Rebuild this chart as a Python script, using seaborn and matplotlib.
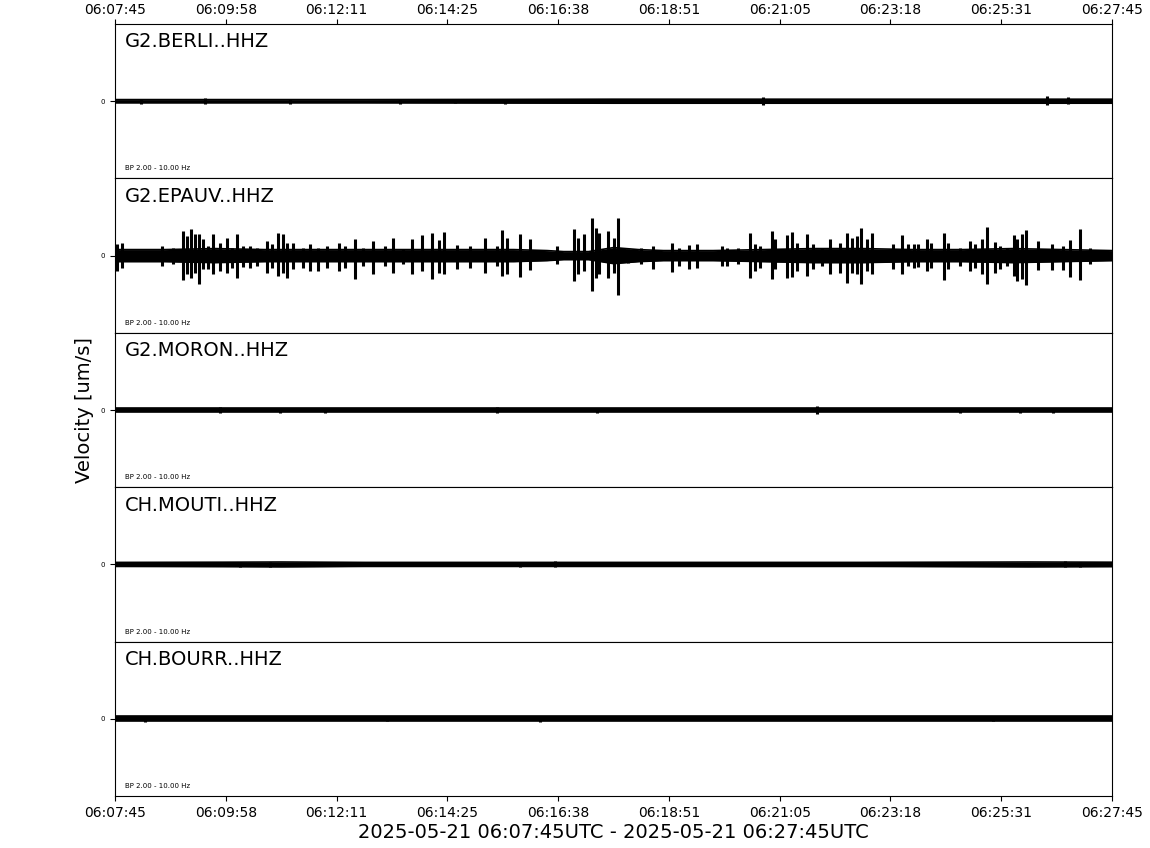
import numpy as np
import pandas as pd
import matplotlib
matplotlib.use("Agg")
import matplotlib.pyplot as plt
import seaborn as sns

# ---------------- data ----------------
stations = ["G2.BERLI..HHZ", "G2.EPAUV..HHZ", "G2.MORON..HHZ",
            "CH.MOUTI..HHZ", "CH.BOURR..HHZ"]
filter_label = "BP 2.00 - 10.00 Hz"
tick_labels = ["06:07:45", "06:09:58", "06:12:11", "06:14:25", "06:16:38",
               "06:18:51", "06:21:05", "06:23:18", "06:25:31", "06:27:45"]
window_label = "2025-05-21 06:07:45UTC - 2025-05-21 06:27:45UTC"
duration_s = 1200
y_limit = 77  # amplitude units (arbitrary velocity scale)

# background noise envelope (seconds from start, half-amplitude)
berli_band_t = [0, 300, 470, 600, 900, 1200]
berli_band_a = [1.6, 1.6, 1.8, 2.0, 2.0, 2.0]
berli_spike_t = [31.3, 108.3, 210.6, 343.0, 409.2, 469.4, 779.9, 1121.8, 1147.0]
berli_spike_up = [2.5, 3.5, 2.5, 2.5, 2.2, 2.5, 4.0, 5.0, 4.0]
berli_spike_dn = [2.5, 3.0, 2.5, 2.5, 2.2, 2.5, 3.5, 4.0, 3.0]

epauv_band_t = [0, 60, 120, 180, 240, 300, 360, 420, 480, 520, 540, 570, 600,
                630, 660, 720, 780, 840, 900, 960, 1020, 1080, 1140, 1200]
epauv_band_a = [6, 6, 7, 6, 6, 6, 6, 6, 6, 5, 4, 4, 8,
                6, 5, 5, 6, 7, 7, 6, 6, 7, 6, 5]
epauv_spike_t = [2.4, 8.4, 56.6, 69.8, 81.8, 86.7, 91.5, 96.3, 101.1, 105.9,
                 111.9, 118.0, 126.4, 134.8, 140.8, 146.8, 154.1, 162.5, 170.9,
                 182.9, 189.0, 196.2, 202.2, 207.0, 214.2, 226.3, 234.7, 244.3,
                 255.2, 269.6, 276.8, 288.9, 298.5,
                 310.5, 325.0, 334.6, 346.6, 357.5, 369.5, 381.5, 390.0, 396.0,
                 411.6, 427.3, 445.3, 459.8, 465.8, 471.8, 487.5, 499.5, 532.0,
                 552.5, 557.3, 564.5, 574.1, 578.9, 582.5, 593.4, 600.0, 605.4,
                 617.4, 633.1, 647.5, 670.4, 678.8, 690.9, 700.5, 730.6, 736.6,
                 749.8, 764.3, 770.3, 776.3, 790.8, 794.4, 808.8, 814.8, 820.9,
                 832.9, 840.1, 850.9, 860.6, 872.6, 881.0, 887.1, 893.1, 897.9,
                 905.1, 911.1, 936.4, 947.2, 954.5, 961.7, 966.5, 977.3, 982.1,
                 997.8, 1002.6, 1017.0, 1029.1, 1035.1, 1043.5, 1049.5, 1059.2,
                 1065.2, 1073.6, 1082.0, 1085.6, 1091.7, 1096.5, 1110.9, 1127.8,
                 1141.0, 1149.4, 1161.5, 1173.5]
epauv_spike_up = [12, 13, 10, 8, 25, 20, 27, 22, 22, 17,
                  10, 22, 13, 18, 8, 22, 10, 10, 8,
                  15, 12, 23, 22, 13, 13, 8, 12, 8,
                  10, 13, 10, 17, 8,
                  15, 10, 18, 7, 17, 21, 23, 16, 24,
                  11, 10, 18, 10, 26, 18, 22, 17, 10,
                  27, 18, 22, 38, 28, 23, 25, 18, 38,
                  7, 8, 10, 13, 8, 11, 12, 10, 8,
                  8, 23, 12, 10, 25, 17, 21, 24, 13,
                  22, 12, 8, 17, 13, 23, 18, 20, 28,
                  17, 23, 12, 21, 12, 12, 12, 17, 13,
                  23, 13, 8, 15, 12, 17, 29, 14,
                  10, 8, 21, 17, 22, 26, 15, 12,
                  10, 16, 27, 8]
epauv_spike_dn = [15, 12, 10, 8, 24, 18, 22, 17, 28, 13,
                  13, 18, 15, 17, 12, 22, 11, 12, 10,
                  17, 12, 20, 17, 22, 13, 12, 15, 15,
                  12, 15, 12, 23, 10,
                  18, 10, 17, 8, 18, 15, 23, 17, 18,
                  13, 12, 17, 10, 20, 18, 21, 14, 8,
                  25, 18, 15, 35, 22, 18, 22, 17, 39,
                  7, 8, 13, 16, 10, 13, 12, 10, 10,
                  8, 22, 15, 12, 23, 13, 22, 21, 15,
                  20, 13, 10, 18, 17, 27, 17, 18, 28,
                  15, 18, 13, 18, 10, 12, 11, 15, 12,
                  24, 13, 10, 15, 12, 18, 28, 17,
                  13, 10, 20, 25, 23, 29, 14, 14,
                  14, 21, 24, 8]

moron_band_t = [0, 300, 600, 900, 1200]
moron_band_a = [2.0, 2.0, 2.0, 2.0, 2.0]
moron_spike_t = [126.4, 198.6, 252.8, 459.8, 580.0, 845.0, 1017.0, 1089.0, 1129.0]
moron_spike_up = [3.0, 2.5, 2.5, 3.0, 2.5, 3.5, 2.5, 2.5, 2.5]
moron_spike_dn = [3.0, 2.5, 2.5, 3.0, 2.5, 3.5, 2.5, 2.5, 2.5]

mouti_band_t = [0, 130, 200, 300, 600, 900, 1100, 1200]
mouti_band_a = [2.0, 2.2, 2.4, 2.0, 2.0, 2.0, 2.4, 2.2]
mouti_spike_t = [150.4, 186.6, 487.5, 529.6, 1143.0, 1161.0]
mouti_spike_up = [2.5, 2.5, 2.5, 3.0, 3.0, 2.5]
mouti_spike_dn = [2.5, 2.5, 2.5, 3.0, 3.0, 2.5]

bourr_band_t = [0, 300, 600, 900, 1200]
bourr_band_a = [2.4, 2.4, 2.4, 2.4, 2.4]
bourr_spike_t = [36.1, 327.0, 511.5, 1056.7]
bourr_spike_up = [3.0, 2.5, 3.0, 2.5]
bourr_spike_dn = [3.0, 2.5, 3.0, 2.5]

traces = [
    (berli_band_t, berli_band_a, berli_spike_t, berli_spike_up, berli_spike_dn),
    (epauv_band_t, epauv_band_a, epauv_spike_t, epauv_spike_up, epauv_spike_dn),
    (moron_band_t, moron_band_a, moron_spike_t, moron_spike_up, moron_spike_dn),
    (mouti_band_t, mouti_band_a, mouti_spike_t, mouti_spike_up, mouti_spike_dn),
    (bourr_band_t, bourr_band_a, bourr_spike_t, bourr_spike_up, bourr_spike_dn),
]

# ---------------- figure ----------------
sns.set_style("ticks")
plt.rcParams["font.family"] = ["DejaVu Sans"]
for key in ["text.color", "axes.labelcolor", "xtick.color", "ytick.color",
            "axes.edgecolor"]:
    plt.rcParams[key] = "black"

fig, axes = plt.subplots(len(stations), 1, figsize=(11.5, 8.48), dpi=100,
                         sharex=True)
fig.subplots_adjust(left=0.1, right=0.967, top=0.9717, bottom=0.0613, hspace=0)

tick_pos = np.linspace(0, duration_s, len(tick_labels))

for i, (ax, name, tr) in enumerate(zip(axes, stations, traces)):
    bt, ba, st, su, sd = tr
    band = pd.DataFrame({"t": bt, "upper": ba, "lower": -np.asarray(ba)})
    ax.fill_between(band["t"], band["lower"], band["upper"], color="black",
                    linewidth=0)
    sns.lineplot(data=band, x="t", y="upper", ax=ax, color="black", lw=1.2)
    sns.lineplot(data=band, x="t", y="lower", ax=ax, color="black", lw=1.2)
    ax.vlines(st, -np.asarray(sd), np.asarray(su), color="black", lw=2.2)

    ax.set_xlim(0, duration_s)
    ax.set_ylim(-y_limit, y_limit)
    ax.set_xlabel("")
    ax.set_ylabel("")
    ax.set_yticks([0])
    ax.set_yticklabels(["0"], fontsize=5)
    ax.tick_params(axis="y", length=3.5, width=0.8, direction="out", pad=3.5,
                   colors="black")
    for sp in ax.spines.values():
        sp.set_visible(True)
        sp.set_linewidth(0.8)
        sp.set_color("black")

    ax.text(0.01, 0.945, name, transform=ax.transAxes, ha="left", va="top",
            fontsize=14, color="black")
    ax.text(0.01, 0.065, filter_label, transform=ax.transAxes, ha="left",
            va="center", fontsize=5, color="black")

    ax.set_xticks(tick_pos)
    if i == 0:
        ax.tick_params(axis="x", top=True, labeltop=True, bottom=False,
                       labelbottom=False, labelsize=10, length=3.5, pad=1.5,
                       width=0.8, colors="black")
        ax.set_xticklabels(tick_labels)
    elif i == len(stations) - 1:
        ax.tick_params(axis="x", top=False, labeltop=False, bottom=True,
                       labelbottom=True, labelsize=10, length=3.5, pad=3.5,
                       width=0.8, colors="black")
        ax.set_xticklabels(tick_labels)
    else:
        ax.tick_params(axis="x", top=False, labeltop=False, bottom=False,
                       labelbottom=False)

axes[0].xaxis.set_tick_params(labeltop=True)
for lbl in axes[0].get_xticklabels():
    lbl.set_visible(True)

fig.text(85 / 1150, 1 - 410 / 848, "Velocity [um/s]", rotation=90,
         ha="center", va="center", fontsize=14, color="black")
fig.text(613 / 1150, 1 - 833 / 848, window_label, ha="center", va="center",
         fontsize=14, color="black")

fig.savefig("out.png", dpi=100)
